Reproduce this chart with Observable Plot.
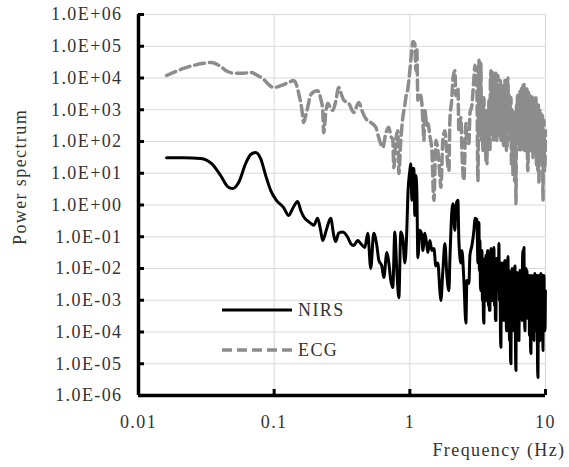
<!DOCTYPE html>
<html><head><meta charset="utf-8">
<script src="https://cdn.jsdelivr.net/npm/d3@7"></script>
<script src="https://cdn.jsdelivr.net/npm/@observablehq/plot@0.6"></script>
<style>
body{margin:0;background:#fff;}
#wrap{position:relative;width:569px;height:467px;}
.lg{position:absolute;display:flex;align-items:center;font-family:'Liberation Serif','Times New Roman',serif;font-size:18px;letter-spacing:1.4px;color:#333;}
.lg svg{margin-right:6px;}
</style></head><body><div id="wrap"></div>
<script>
const xTicks = [0.01, 0.1, 1, 10];
const yTicks = [1e-6, 1e-5, 1e-4, 1e-3, 1e-2, 1e-1, 1e0, 1e1, 1e2, 1e3, 1e4, 1e5, 1e6];
const seriesNames = ["NIRS", "ECG"];
const xTitle = "Frequency (Hz)";
const yTitle = "Power spectrum";

// NIRS, below ~3.2 Hz
const nirsFreqLow = [0.0161, 0.0215, 0.0287, 0.0346, 0.0403, 0.0454, 0.0494, 0.0547, 0.0616, 0.0671,
  0.0730, 0.0795, 0.0866, 0.0942, 0.104, 0.1175, 0.128, 0.137, 0.149, 0.157,
  0.165, 0.183, 0.196, 0.209, 0.220, 0.228, 0.244, 0.261, 0.275, 0.284,
  0.299, 0.320, 0.349, 0.367, 0.386, 0.413, 0.435, 0.466, 0.490, 0.515,
  0.542, 0.571, 0.591, 0.621, 0.643, 0.677, 0.700, 0.724, 0.749, 0.775,
  0.802, 0.830, 0.858, 0.888, 0.919, 0.950, 0.967, 1.0, 1.017, 1.035,
  1.052, 1.070, 1.089, 1.107, 1.126, 1.146, 1.185, 1.226, 1.247, 1.290,
  1.335, 1.358, 1.405, 1.453, 1.504, 1.556, 1.609, 1.665, 1.693, 1.752,
  1.813, 1.876, 1.941, 1.973, 2.042, 2.077, 2.148, 2.185, 2.261, 2.299,
  2.379, 2.420, 2.503, 2.590, 2.634, 2.726, 2.772, 2.869, 2.968, 3.019,
  3.122, 3.176];
const nirsPowerLow = [31, 31, 29, 20, 8.5, 3.8, 3.3, 5.1, 20, 39,
  45, 29, 8.5, 2.9, 1.4, 0.83, 0.47, 0.78, 1.3, 0.67,
  0.43, 0.28, 0.23, 0.38, 0.16, 0.076, 0.18, 0.38, 0.11, 0.071,
  0.13, 0.14, 0.095, 0.061, 0.053, 0.076, 0.061, 0.046, 0.13, 0.01,
  0.13, 0.053, 0.018, 0.012, 0.0052, 0.032, 0.015, 0.0042, 0.0025, 0.14,
  0.0086, 0.0012, 0.14, 0.088, 0.015, 0.16, 2.0, 12, 20, 1.4,
  14, 14, 0.47, 8.5, 2.9, 0.022, 0.16, 0.11, 0.037, 0.13,
  0.053, 0.032, 0.076, 0.037, 0.043, 0.012, 0.015, 0.0020, 0.00098, 0.0086,
  0.061, 0.006, 0.0020, 0.018, 0.67, 1.1, 0.16, 0.96, 1.4, 0.076,
  0.015, 0.037, 0.0042, 0.00019, 0.0042, 0.0034, 0.026, 0.053, 0.16, 0.38,
  0.35, 0.015];

// ECG, below ~3.2 Hz
const ecgFreqLow = [0.0161, 0.01875, 0.0215, 0.02547, 0.0302, 0.0346, 0.0403, 0.0454, 0.0520, 0.05855,
  0.0671, 0.0756, 0.0837, 0.0911, 0.0992, 0.1080, 0.1175, 0.128, 0.1393, 0.1466,
  0.1516, 0.1596, 0.165, 0.1708, 0.1767, 0.183, 0.1923, 0.209, 0.220, 0.228,
  0.2319, 0.2399, 0.2482, 0.261, 0.2702, 0.284, 0.299, 0.3096, 0.3258, 0.3546,
  0.386, 0.4204, 0.4498, 0.4733, 0.515, 0.5612, 0.591, 0.632, 0.6649, 0.700,
  0.724, 0.749, 0.762, 0.7882, 0.8157, 0.830, 0.858, 0.888, 0.919, 0.934,
  0.967, 0.983, 1.017, 1.035, 1.052, 1.089, 1.107, 1.126, 1.146, 1.185,
  1.226, 1.247, 1.269, 1.290, 1.335, 1.358, 1.405, 1.453, 1.504, 1.556,
  1.609, 1.665, 1.693, 1.752, 1.813, 1.876, 1.941, 1.973, 2.042, 2.077,
  2.148, 2.185, 2.261, 2.299, 2.379, 2.420, 2.503, 2.590, 2.634, 2.726,
  2.772, 2.869, 2.968, 3.019, 3.122, 3.176];
const ecgPowerLow = [1.2e4, 1.6e4, 2.0e4, 2.5e4, 2.9e4, 3.1e4, 2.3e4, 1.6e4, 1.4e4, 1.4e4,
  1.5e4, 1.2e4, 9.0e3, 6.2e3, 5.0e3, 5.4e3, 6.2e3, 7.2e3, 8.3e3, 5.8e3,
  3.3e3, 1.1e3, 4.0e2, 6.6e2, 1.2e3, 2.4e3, 3.5e3, 4.0e3, 2.3e3, 9.5e2,
  1.9e2, 8.2e2, 1.6e3, 1.1e3, 9.5e2, 1.8e3, 5.0e3, 3.5e3, 2.0e3, 1.6e3,
  8.2e2, 1.7e3, 8.2e2, 5.3e2, 4.0e2, 2.8e2, 1.3e2, 65, 1.8e2, 2.8e2,
  1.5e2, 1.1e2, 15, 1.1e2, 2.2e2, 9.8, 1.1e2, 5.7e2, 1.4e3, 2.4e3,
  4.7e3, 8.3e3, 3.6e4, 8.5e4, 1.4e5, 1.2e5, 1.7e4, 9.1e4, 2.0e3, 3.3e3,
  1.6e3, 4.6e2, 1.1e2, 9.5e2, 3.2e2, 3.7e2, 1.5e2, 52, 1.4, 1.1e2,
  52, 8.5, 3.6, 1.1e2, 2.2e2, 36, 12, 4.6e2, 2.4e3, 9.6e3,
  1.7e4, 2.8e3, 5.0e3, 2.2e2, 5.7e2, 52, 5.9, 3.7e2, 1.1e2, 86,
  7.6e2, 1.4e3, 1.0e4, 2.5e4, 4.0e3, 5.9];

// dense high-frequency part (3.2 - 10 Hz), shared frequency list
const hfFreq = [3.230, 3.258, 3.286, 3.314, 3.342, 3.371, 3.400, 3.429, 3.458, 3.487,
  3.517, 3.547, 3.577, 3.608, 3.639, 3.670, 3.701, 3.732, 3.764, 3.796,
  3.829, 3.861, 3.894, 3.927, 3.961, 3.995, 4.029, 4.064, 4.098, 4.133,
  4.168, 4.204, 4.240, 4.276, 4.312, 4.349, 4.385, 4.423, 4.460, 4.498,
  4.537, 4.575, 4.615, 4.654, 4.694, 4.734, 4.775, 4.815, 4.856, 4.898,
  4.939, 4.981, 5.024, 5.066, 5.110, 5.153, 5.199, 5.243, 5.288, 5.333,
  5.379, 5.425, 5.472, 5.518, 5.565, 5.612, 5.660, 5.708, 5.757, 5.806,
  5.855, 5.905, 5.956, 6.006, 6.058, 6.110, 6.162, 6.214, 6.267, 6.321,
  6.375, 6.429, 6.484, 6.539, 6.595, 6.651, 6.708, 6.765, 6.823, 6.881,
  6.940, 6.999, 7.059, 7.119, 7.180, 7.241, 7.303, 7.365, 7.428, 7.491,
  7.556, 7.620, 7.685, 7.750, 7.816, 7.883, 7.950, 8.018, 8.086, 8.155,
  8.225, 8.295, 8.366, 8.437, 8.510, 8.582, 8.656, 8.729, 8.804, 8.879,
  8.954, 9.031, 9.108, 9.186, 9.265, 9.344, 9.424, 9.504, 9.584, 9.666,
  9.748, 9.831, 9.915, 9.99];
const nirsPowerHigh = [0.28, 0.0086, 0.076, 0.0029, 0.002, 0.026, 0.037, 0.00098, 0.012, 0.00033,
  0.00019, 0.015, 0.021, 0.00098, 0.026, 0.0014, 0.00098, 0.032, 0.037, 0.00068,
  0.021, 0.00048, 0.00048, 0.026, 0.043, 0.00098, 0.015, 0.0014, 0.00098, 0.037,
  0.046, 0.00068, 0.021, 0.00023, 0.00023, 0.015, 0.021, 0.002, 0.018, 0.0029,
  0.061, 0.00098, 0.015, 0.00011, 3.3e-5, 0.012, 0.015, 0.00048, 0.01, 0.00027,
  0.00023, 0.015, 0.018, 0.00068, 0.012, 0.00011, 0.00011, 0.015, 0.024, 0.00098,
  0.0086, 5.4e-5, 0.0042, 1.8e-5, 1.0e-5, 0.006, 0.01, 0.00023, 0.0086, 0.00011,
  0.00011, 0.01, 0.012, 3.8e-5, 6.1e-6, 0.006, 0.0075, 0.00027, 0.006, 0.00068,
  5.4e-5, 0.0048, 0.0086, 0.00038, 0.0034, 0.00079, 0.00023, 0.015, 0.037, 0.00098,
  0.046, 0.00048, 0.00011, 0.0086, 0.01, 0.00048, 0.0086, 0.00027, 0.00048, 0.006,
  0.0048, 7.8e-5, 0.006, 3.8e-5, 2.1e-5, 0.0042, 0.006, 0.00016, 0.0048, 0.00033,
  5.4e-5, 0.006, 0.007, 0.00011, 0.00023, 0.0048, 0.006, 1.3e-5, 3.7e-6, 0.0042,
  0.006, 0.00016, 5.4e-5, 0.006, 0.007, 0.00023, 0.00011, 0.006, 2.6e-5, 0.0048,
  0.006, 0.00016, 0.00011, 0.002];
const ecgPowerHigh = [3.6e4, 9.5e2, 1.7e4, 2.2e2, 2.9e4, 1.1e2, 4.6e2, 2.0e3, 52, 1.4e3,
  2.4e3, 52, 1.1e2, 9.5e2, 25, 5.7e2, 20, 9.5e2, 5.7e2, 75,
  2.0e3, 52, 52, 8.3e3, 1.7e4, 2.2e2, 1.2e4, 1.5e2, 1.5e4, 1.1e2,
  2.2e2, 8.3e3, 1.5e2, 1.2e4, 1.4e4, 1.1e2, 1.1e2, 8.3e3, 1.2e4, 2.2e2,
  4.6e2, 5.8e3, 1.5e2, 8.3e3, 1.1e2, 4.0e3, 5.8e3, 1.1e2, 2.8e3, 75,
  1.1e2, 7.2e3, 8.3e3, 1.5e2, 4.0e3, 52, 52, 5.8e3, 1.0e4, 2.2e2,
  2.2e2, 2.8e3, 1.1e2, 2.0e3, 2.4e3, 18, 25, 9.5e2, 8.5, 6.6e2,
  5.7e2, 5.9, 5.9, 9.5e2, 1.1, 1.4e3, 2.2e2, 2.8e3, 9.5e2, 1.1e2,
  2.4e3, 52, 4.0e3, 1.1e2, 52, 4.7e3, 4.0e3, 1.5e2, 5.8e3, 75,
  6.6e3, 52, 52, 4.0e3, 1.1e2, 4.7e3, 4.0e3, 25, 12, 3.5e3,
  2.4e3, 75, 2.8e3, 52, 1.1e2, 2.8e3, 2.8e3, 52, 31, 2.3e3,
  2.0e3, 75, 52, 2.0e3, 2.4e3, 18, 9.5e2, 25, 12, 1.4e3,
  4.8, 9.5e2, 9.5e2, 25, 7.6e2, 52, 25, 6.6e2, 1.4, 4.6e2,
  4.6e2, 12, 18, 2.2e2];

const nirs = nirsFreqLow.concat(hfFreq).map((f, i) => ({f, p: nirsPowerLow.concat(nirsPowerHigh)[i]}));
const ecg = ecgFreqLow.concat(hfFreq).map((f, i) => ({f, p: ecgPowerLow.concat(ecgPowerHigh)[i]}));

const fmtY = d => {
  const e = Math.round(Math.log10(d));
  return "1.0E" + (e < 0 ? "-" : "+") + String(Math.abs(e)).padStart(2, "0");
};

const W = 569, H = 467, ML = 138, MR = 24, MT = 14, MB = 72;
const fw = W - ML - MR, fh = H - MT - MB;
const font = "'Liberation Serif','Times New Roman',serif";
const styles = {
  NIRS: {stroke: "#000", strokeWidth: 3, dash: null},
  ECG: {stroke: "#8c8c8c", strokeWidth: 3.5, dash: "10,5"}
};

const chart = Plot.plot({
  width: W, height: H,
  marginLeft: ML, marginRight: MR, marginTop: MT, marginBottom: MB,
  style: {fontFamily: font, fontSize: "18px", letterSpacing: "1.4px", background: "#fff", color: "#333"},
  x: {type: "log", domain: [0.01, 10]},
  y: {type: "log", domain: [1e-6, 1e6]},
  marks: [
    Plot.gridX(xTicks, {stroke: "#d9d9d9", strokeOpacity: 1, strokeWidth: 1}),
    Plot.gridY(yTicks, {stroke: "#d9d9d9", strokeOpacity: 1, strokeWidth: 1}),
    Plot.line(ecg, {x: "f", y: "p", stroke: styles.ECG.stroke, strokeWidth: styles.ECG.strokeWidth, strokeDasharray: styles.ECG.dash, curve: "monotone-x"}),
    Plot.line(nirs, {x: "f", y: "p", stroke: styles.NIRS.stroke, strokeWidth: styles.NIRS.strokeWidth, curve: "monotone-x"}),
    Plot.ruleX([xTicks[0]], {stroke: "#000", strokeWidth: 3.5}),
    Plot.ruleY([yTicks[0]], {stroke: "#000", strokeWidth: 3.5}),
    Plot.tickY(yTicks, {y: d => d, stroke: "#000", strokeWidth: 3, insetRight: fw - 6}),
    Plot.tickX(xTicks, {x: d => d, stroke: "#000", strokeWidth: 3, insetTop: fh - 6}),
    Plot.axisY(yTicks, {tickSize: 0, tickPadding: 16, tickFormat: fmtY, label: null, fontSize: 18}),
    Plot.axisX(xTicks, {tickSize: 0, tickPadding: 20, tickFormat: d => String(d), label: null, fontSize: 18}),
    Plot.text([yTitle], {frameAnchor: "left", textAnchor: "middle", lineAnchor: "middle", rotate: -90, dx: -118, dy: -28, fontSize: 18, fill: "#333"}),
    Plot.text([xTitle], {frameAnchor: "bottom-right", textAnchor: "end", lineAnchor: "middle", dx: 20, dy: 55, fontSize: 18, fill: "#333"})
  ]
});
const wrap = document.getElementById("wrap");
wrap.appendChild(chart);

// legend overlay inside the plot area
const legendTop = [300, 340];
seriesNames.forEach((name, i) => {
  const s = styles[name];
  const div = document.createElement("div");
  div.className = "lg";
  div.style.left = "222px";
  div.style.top = legendTop[i] + "px";
  div.style.height = "20px";
  div.innerHTML = `<svg width="70" height="20"><line x1="0" x2="70" y1="10" y2="10" stroke="${s.stroke}" stroke-width="${s.strokeWidth}" ${s.dash ? `stroke-dasharray="${s.dash}"` : ""}/></svg><span>${name}</span>`;
  wrap.appendChild(div);
});
</script>
</body></html>
